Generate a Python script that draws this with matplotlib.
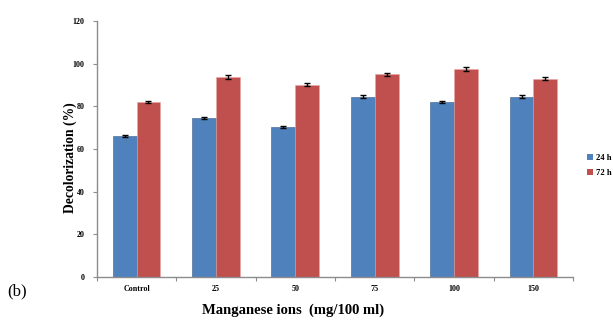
import numpy as np
import matplotlib
matplotlib.use("Agg")
import matplotlib.pyplot as plt
from matplotlib.patches import Patch

categories = ["Control", "25", "50", "75", "100", "150"]
series_names = ["24 h", "72 h"]
decol_24h = [66.2, 74.6, 70.3, 84.5, 81.9, 84.5]
decol_72h = [82.2, 93.9, 90.2, 95.0, 97.5, 93.0]
err_24h = [0.5, 0.5, 0.4, 0.7, 0.4, 0.7]
err_72h = [0.5, 0.9, 0.8, 0.8, 0.8, 0.9]
y_ticks = [0, 20, 40, 60, 80, 100, 120]

blue = "#4F81BD"
red = "#C0504D"
axis_grey = "#8C8C8C"
serif = ["Liberation Serif", "DejaVu Serif"]

fig = plt.figure(figsize=(6.13, 3.22), dpi=100)
ax = fig.add_axes([0.158, 0.140, 0.777, 0.795])

x = np.arange(len(categories))
w = 0.30
ax.bar(x - w / 2, decol_24h, w, color=blue, edgecolor="#3a5f8c", linewidth=0.4,
       yerr=err_24h, error_kw=dict(ecolor="black", elinewidth=1.0, capsize=2.2, capthick=1.0))
ax.bar(x + w / 2, decol_72h, w, color=red, edgecolor="#e8a8a6", linewidth=0.4,
       yerr=err_72h, error_kw=dict(ecolor="black", elinewidth=1.0, capsize=2.2, capthick=1.0))

ax.set_xlim(-0.5, len(categories) - 0.5)
ax.set_ylim(0, 120)
ax.set_yticks(y_ticks)
ax.set_xticks(x)
ax.set_xticklabels(categories)
ax.set_xticks(np.arange(len(categories) + 1) - 0.5, minor=True)
ax.tick_params(axis="x", which="major", length=0, pad=6)
ax.tick_params(axis="x", which="minor", length=3, color=axis_grey, width=0.8)
ax.tick_params(axis="y", length=3, color=axis_grey, width=0.8, pad=6)
for lbl in ax.get_xticklabels() + ax.get_yticklabels():
    lbl.set_fontfamily(serif)
    lbl.set_fontweight("bold")
    lbl.set_fontsize(5.8)

for side in ["top", "right"]:
    ax.spines[side].set_visible(False)
for side in ["left", "bottom"]:
    ax.spines[side].set_color(axis_grey)
    ax.spines[side].set_linewidth(1.0)

fig.text(0.478, 0.037, "Manganese ions  (mg/100 ml)", ha="center", va="center",
         family=serif, fontweight="bold", fontsize=10.5)
fig.text(0.114, 0.512, "Decolorization (%)", ha="center", va="center", rotation=90,
         family=serif, fontweight="bold", fontsize=9.8)
fig.text(0.012, 0.095, "(b)", ha="left", va="center", family=serif, fontsize=12)

handles = [Patch(facecolor=blue), Patch(facecolor=red)]
leg = fig.legend(handles, series_names, loc="center left", bbox_to_anchor=(0.958, 0.486),
                 frameon=False, handlelength=0.7, handleheight=0.7, handletextpad=0.3,
                 labelspacing=0.8, borderaxespad=0, borderpad=0,
                 prop=dict(family=serif, weight="bold", size=6.2))

fig.savefig("out.png", dpi=100)
